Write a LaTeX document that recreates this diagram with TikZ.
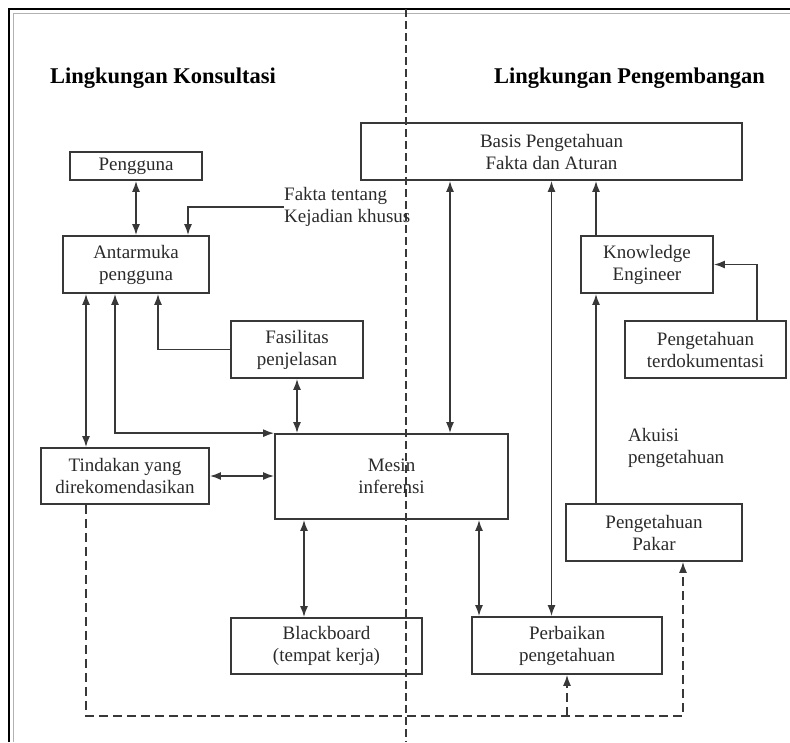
\documentclass[tikz,border=0pt]{standalone}
\usepackage{fontspec}
\setmainfont{Liberation Serif}
\usetikzlibrary{arrows.meta,calc}
\definecolor{ink}{HTML}{2A2A2A}
\definecolor{wire}{HTML}{383838}
\begin{document}
\begin{tikzpicture}[x=1pt,y=-1pt,
  box/.style={draw=wire,line width=1.7pt,inner sep=0pt,align=center,text=ink,
    font=\fontsize{19}{22}\selectfont},
  conn/.style={draw=wire,line width=1.7pt},
  both/.style={{Latex[length=11pt,width=8pt]}-{Latex[length=11pt,width=8pt]}},
  fwd/.style={-{Latex[length=11pt,width=8pt]}},
  dconn/.style={draw=wire,line width=1.5pt,dash pattern=on 9pt off 5pt},
  lbl/.style={inner sep=0pt,align=left,text=ink,font=\fontsize{19}{22}\selectfont},
  title/.style={inner sep=0pt,anchor=west,text=black,font=\fontsize{22.5}{26}\selectfont\bfseries}]
\useasboundingbox (0,0) rectangle (790,742);
% frame
\draw[line width=2.2pt,black] (9,742) -- (9,9) -- (790,9);
\draw[line width=0.8pt,gray!60] (13.5,742) -- (13.5,13.5) -- (790,13.5);
% divider
\draw[draw=wire,line width=1.2pt,dash pattern=on 8pt off 4pt] (406,9) -- (406,742);
% titles
\node[title] (t1) at (50,78) {Lingkungan Konsultasi};
\node[title] (t2) at (494,78) {Lingkungan Pengembangan};
% boxes
\node[box,minimum width=132pt,minimum height=28pt] (peng) at (136,166) {Pengguna};
\node[box,minimum width=146pt,minimum height=57pt] (ant) at (136,264.5) {Antarmuka\\pengguna};
\node[box,minimum width=381pt,minimum height=57pt] (basis) at (551.5,151.5) {Basis Pengetahuan\\Fakta dan Aturan};
\node[box,minimum width=132pt,minimum height=57pt] (ke) at (647,264.5) {Knowledge\\Engineer};
\node[box,minimum width=161pt,minimum height=57pt] (terdok) at (705.5,349.5) {Pengetahuan\\terdokumentasi};
\node[box,minimum width=132pt,minimum height=57pt] (fas) at (297,349.5) {Fasilitas\\penjelasan};
\node[box,minimum width=233pt,minimum height=85pt] (mesin) at (391.5,476.5) {Mesin\\inferensi};
\node[box,minimum width=168pt,minimum height=56pt] (tind) at (125,476) {Tindakan yang\\direkomendasikan};
\node[box,minimum width=191pt,minimum height=56pt] (bb) at (326.5,646) {Blackboard\\(tempat kerja)};
\node[box,minimum width=190pt,minimum height=57pt] (perb) at (567,645.5) {Perbaikan\\pengetahuan};
\node[box,minimum width=176pt,minimum height=57pt] (pakar) at (654,532.5) {Pengetahuan\\Pakar};
% labels
\node[lbl,anchor=west] (fakta) at (284,207) {Fakta tentang\\Kejadian khusus};
\node[lbl,anchor=west] (akuisi) at (628,448) {Akuisi\\pengetahuan};
\coordinate (loopY) at (0,716);
% connectors
\draw[conn,both] (peng.south) -- (ant.north);
\draw[conn,fwd] (fakta.west) -| ([xshift=52pt]ant.north);
\draw[conn,both] ([xshift=-50pt]ant.south) -- ([xshift=-50pt]ant.south |- tind.north);
\draw[conn,both] ([xshift=-21pt]ant.south) |- (mesin.north west);
\draw[conn,fwd] (fas.west) -| ([xshift=22pt]ant.south);
\draw[conn,both] (fas.south) -- (fas.south |- mesin.north);
\draw[conn,both] (tind.east) -- (tind.east -| mesin.west);
\draw[conn,both] ([xshift=-101.5pt]basis.south) -- ([xshift=-101.5pt]basis.south |- mesin.north);
\draw[conn,both] (basis.south) -- (basis.south |- perb.north);
\draw[conn,fwd] ([xshift=-51pt]ke.north) -- ([xshift=-51pt]ke.north |- basis.south);
\draw[conn,fwd] ([xshift=51.5pt]terdok.north) |- (ke.east);
\draw[conn,fwd] ([xshift=-58pt]pakar.north) -- ([xshift=-58pt]pakar.north |- ke.south);
\draw[conn,both] ([xshift=87.5pt]mesin.south) -- ([xshift=87.5pt]mesin.south |- perb.north);
\draw[conn,both] ([xshift=-87.5pt]mesin.south) -- ([xshift=-87.5pt]mesin.south |- bb.north);
\draw[dconn,fwd] ([xshift=-39pt]tind.south) -- ([xshift=-39pt]tind.south |- loopY) -| ([xshift=29pt]pakar.south);
\draw[dconn,fwd] (perb.south |- loopY) -- (perb.south);
\end{tikzpicture}
\end{document}
